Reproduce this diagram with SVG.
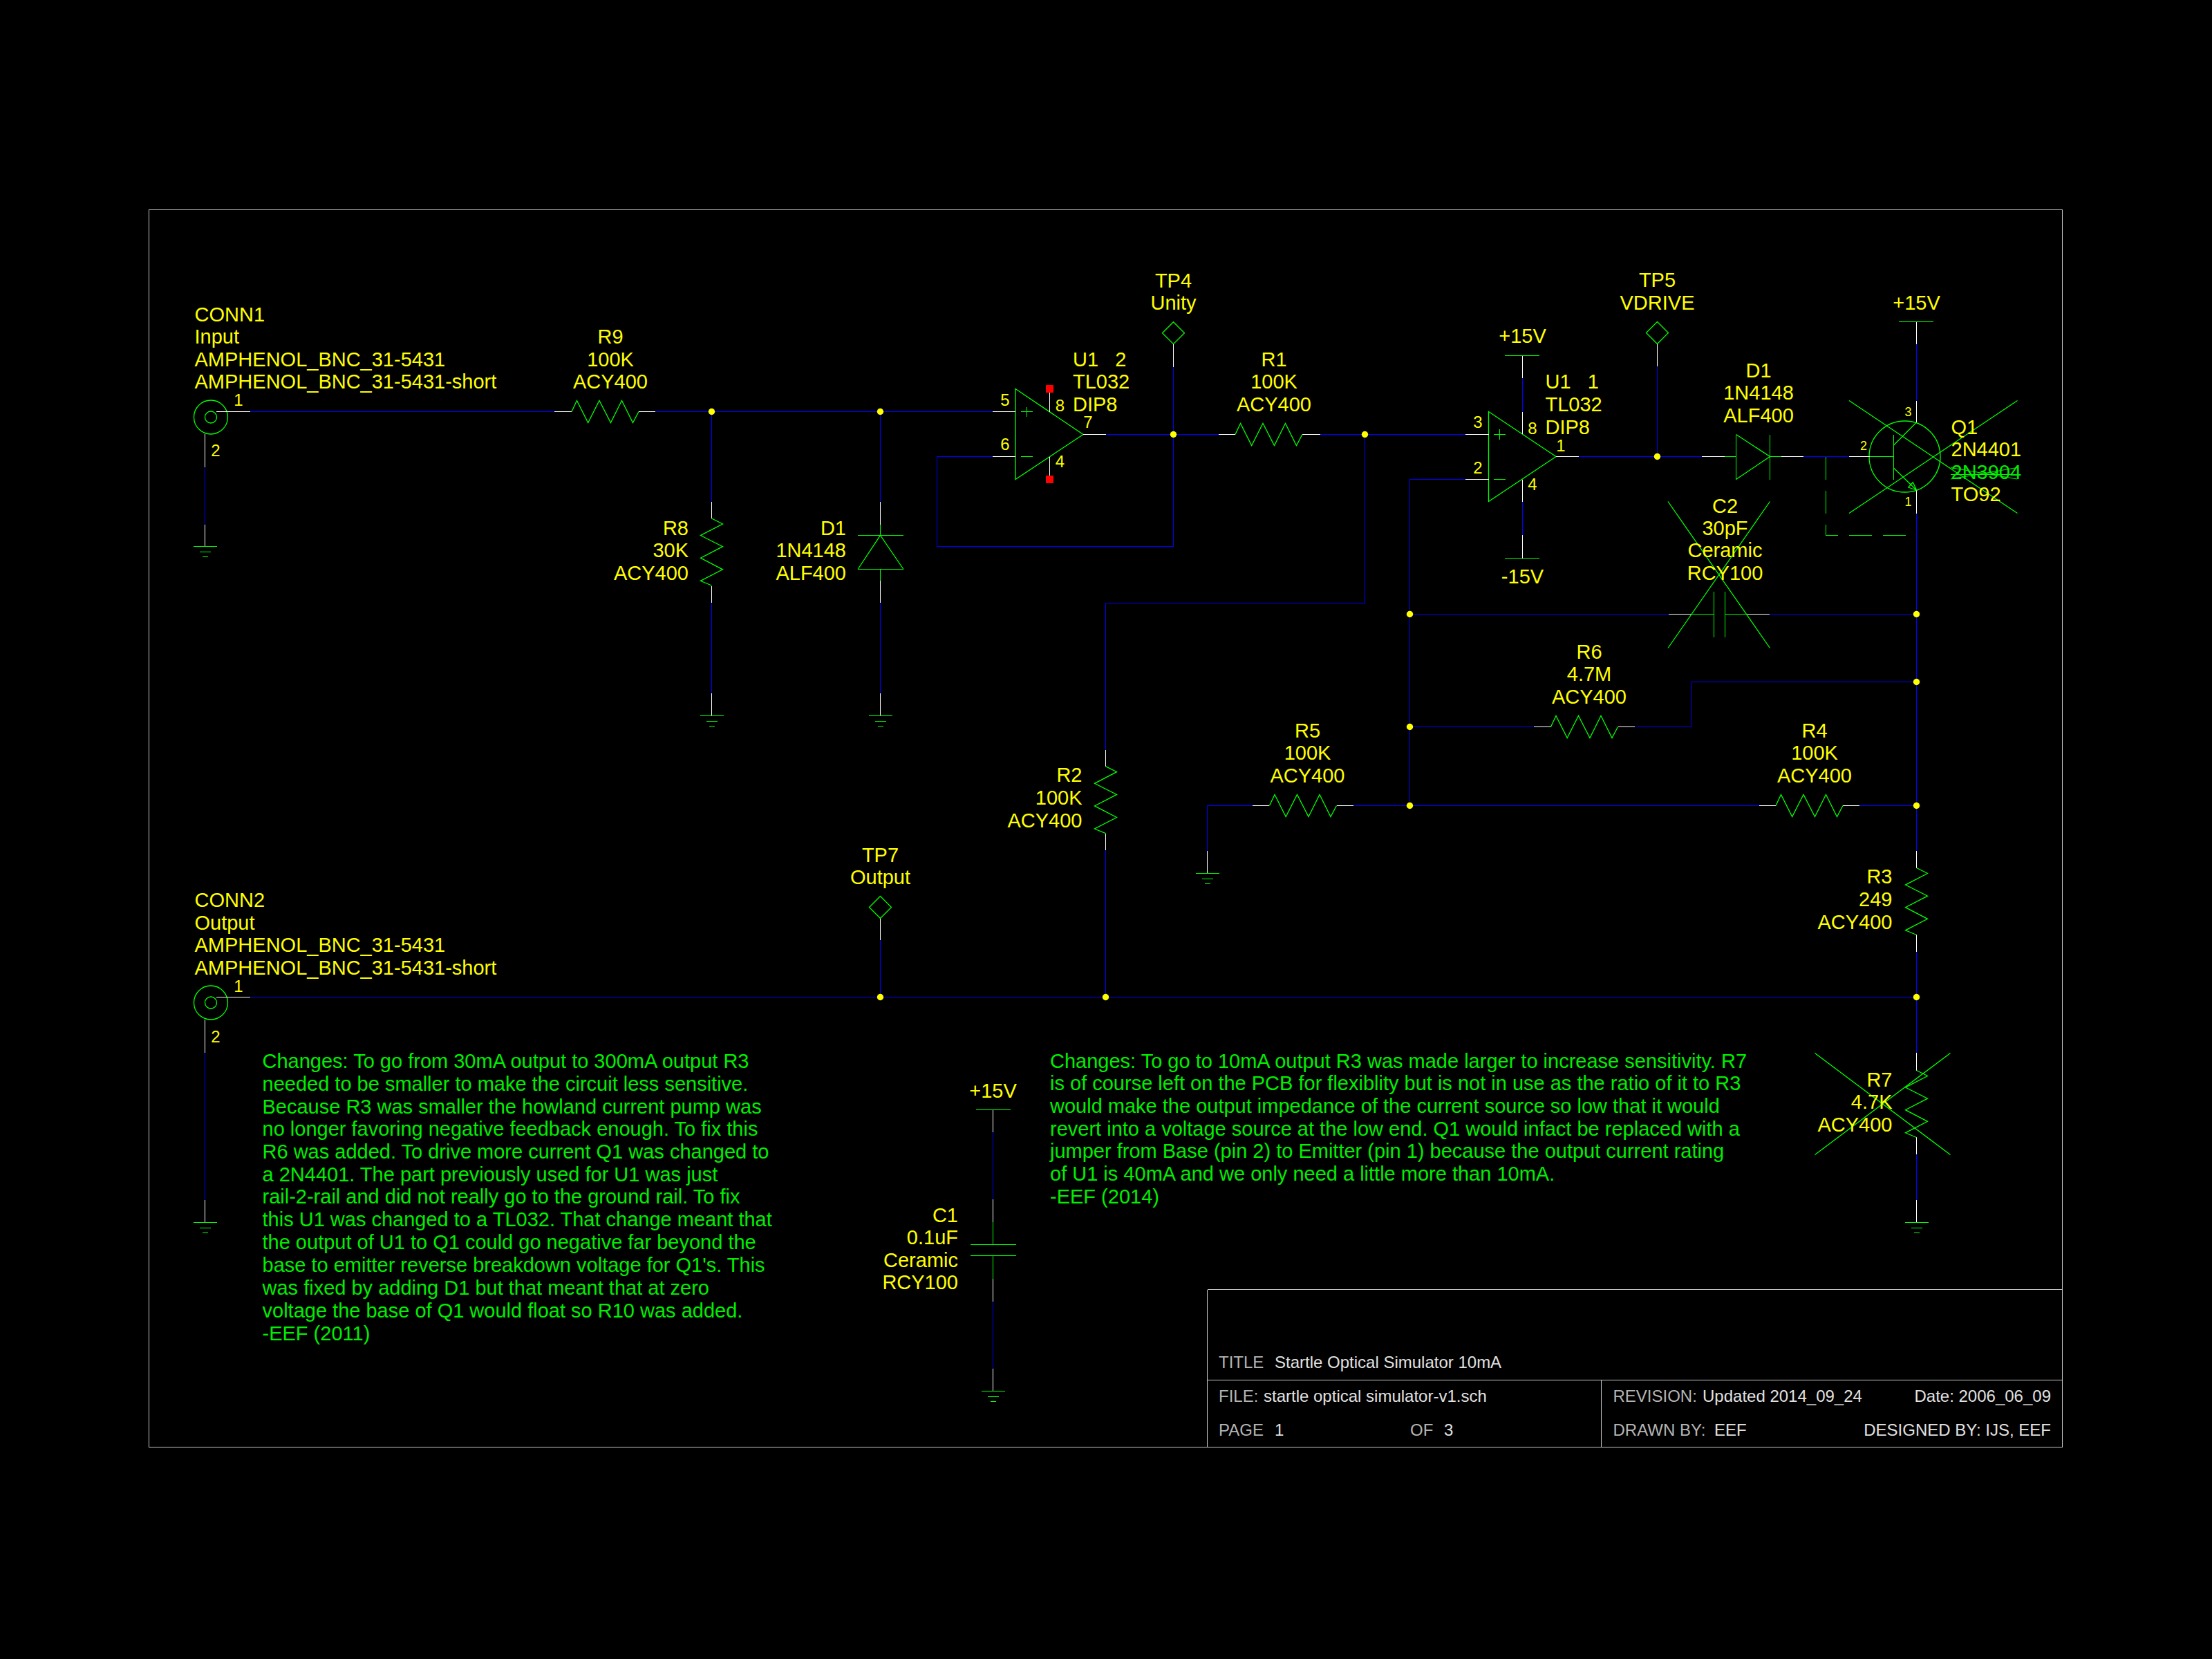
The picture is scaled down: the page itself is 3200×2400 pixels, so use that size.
<svg xmlns="http://www.w3.org/2000/svg" width="3200" height="2400" viewBox="0 0 3200 2400">
<style>
text{font-family:"Liberation Sans",Arial,sans-serif;font-size:29px;fill:#ff0}
.m{text-anchor:middle}.e{text-anchor:end}
.p{font-size:24px}.ps{font-size:18px}
.n{fill:#0e0}
.tb{font-size:24px;fill:#b4b4b4}.tv{font-size:24px;fill:#e0e0e0}
.s{fill:none;stroke:#0f0;stroke-width:1.3}
.c{fill:none;stroke:#0f0;stroke-width:1;shape-rendering:crispEdges}
.d{fill:none;stroke:#0f0;stroke-width:1;stroke-dasharray:33 16;shape-rendering:crispEdges}
.w{fill:none;stroke:#00f;stroke-width:1;shape-rendering:crispEdges}
.q{fill:none;stroke:#fff;stroke-width:1;shape-rendering:crispEdges}
.f{fill:none;stroke:#c8c8c8;stroke-width:1;shape-rendering:crispEdges}
.j{fill:#ff0}
.r{fill:#f00}
</style>
<defs>
<polyline id="rh" class="s" points="0,0 7.5,-16 23.7,16 40,-16 56.5,16 72.5,-16 88.5,16 97,0"/>
<polyline id="rv" class="s" points="0,0 16,8 -16,24.6 16,40.7 -16,57.2 16,73.8 -16,90.3 0,97"/>
<path id="gnd" class="c" d="M-17 0H17M-8 8H8M-4 15H4"/>
<polygon id="tp" class="s" points="0,-16 16,0 0,16 -16,0"/>
<g id="ring"><circle class="s" r="24.5"/><circle class="s" r="8.5"/></g>
<circle id="jn" class="j" r="4.7"/>
</defs>
<rect width="3200" height="2400" fill="#000"/>
<g id="frame">
<path class="f" d="M215.5 303.5H2983.5V2093.5H215.5ZM1746.5 1865.5H2983.5M1746.5 1865.5V2093.5M1746.5 1996.5H2983.5M2316.5 1996.5V2093.5"/>
<text class="tb" x="1763" y="1979">TITLE</text><text class="tv" x="1844" y="1979">Startle Optical Simulator 10mA</text>
<text class="tb" x="1763" y="2028">FILE:</text><text class="tv" x="1828" y="2028">startle optical simulator-v1.sch</text>
<text class="tb" x="1763" y="2077">PAGE</text><text class="tv" x="1844" y="2077">1</text>
<text class="tb" x="2040" y="2077">OF</text><text class="tv" x="2089" y="2077">3</text>
<text class="tb" x="2333.5" y="2028">REVISION:</text><text class="tv" x="2463" y="2028">Updated 2014_09_24</text>
<text class="tv e" x="2967" y="2028">Date: 2006_06_09</text>
<text class="tb" x="2333.5" y="2077">DRAWN BY:</text><text class="tv" x="2480" y="2077">EEF</text>
<text class="tv e" x="2967" y="2077">DESIGNED BY: IJS, EEF</text>
</g>
<g id="connectors">
<path class="w" d="M362 595.5H802M948 595.5H1436M1029.5 595.5V726M1029.5 871.5V1003M1273.5 595.5V726M1273.5 871.5V1003"/>
<path class="w" d="M1436 660.5H1355.5V790.5H1697.5V531M1600 628.5H1763M1910 628.5H2120M1974.5 628.5V872.5H1599.5V1085M1599.5 1230V1442.5"/>
<path class="w" d="M362 1442.5H2772.5M1273.5 1360V1442.5M2772.5 498V580M2772.5 742.5V1230.5M2772.5 1376.5V1523M2772.5 1669.5V1736"/>
<path class="w" d="M2120 693.5H2039.5V1165.5M2039.5 888.5H2413.5M2560 888.5H2772.5M2039.5 1051.5H2218.5M2364.5 1051.5H2446.5V986.5H2772.5"/>
<path class="w" d="M1746.5 1230.5V1165.5H1812M1958 1165.5H2545M2690 1165.5H2772.5M2284 660.5H2462M2397.5 530V660.5M2609 660.5H2675"/>
<path class="w" d="M2202.5 547V595.5M2202.5 726V774M296.5 675.5V758.5M296.5 1523V1736M1436.5 1638V1735M1436.5 1883V1980"/>
<use href="#jn" x="1029.5" y="595.5"/><use href="#jn" x="1273.5" y="595.5"/><use href="#jn" x="1697.5" y="628.5"/><use href="#jn" x="1974.5" y="628.5"/>
<use href="#jn" x="2397.5" y="660.5"/><use href="#jn" x="2039.5" y="888.5"/><use href="#jn" x="2772.5" y="888.5"/><use href="#jn" x="2772.5" y="986.5"/>
<use href="#jn" x="2039.5" y="1051.5"/><use href="#jn" x="2039.5" y="1165.5"/><use href="#jn" x="2772.5" y="1165.5"/>
<use href="#jn" x="1273.5" y="1442.5"/><use href="#jn" x="1599.5" y="1442.5"/><use href="#jn" x="2772.5" y="1442.5"/>
</g>
<g id="CONN1">
<use href="#ring" x="305" y="603.5"/>
<path class="q" d="M313 595.5H362M296.5 628V675.5M296.5 758.5V790"/>
<use href="#gnd" x="296.5" y="790.5"/>
<text x="281.5" y="465">CONN1</text><text x="281.5" y="497">Input</text><text x="281.5" y="530">AMPHENOL_BNC_31-5431</text><text x="281.5" y="562">AMPHENOL_BNC_31-5431-short</text>
<text class="p m" x="345" y="587">1</text><text class="p m" x="312" y="660">2</text>
</g>
<g id="CONN2">
<use href="#ring" x="305" y="1450.5"/>
<path class="q" d="M313 1442.5H362M296.5 1475V1523M296.5 1736V1768"/>
<use href="#gnd" x="296.5" y="1768.5"/>
<text x="281.5" y="1312">CONN2</text><text x="281.5" y="1344.5">Output</text><text x="281.5" y="1377">AMPHENOL_BNC_31-5431</text><text x="281.5" y="1409.5">AMPHENOL_BNC_31-5431-short</text>
<text class="p m" x="345" y="1435">1</text><text class="p m" x="312" y="1508">2</text>
</g>
<g id="R9">
<path class="q" d="M802 595.5H827M924 595.5H948"/><use href="#rh" x="827" y="595.5"/>
<text class="m" x="883" y="497">R9</text><text class="m" x="883" y="530">100K</text><text class="m" x="883" y="562">ACY400</text>
</g>
<g id="R8">
<path class="q" d="M1029.5 726V750M1029.5 847.5V871.5M1029.5 1003V1035"/><use href="#rv" x="1029.5" y="750"/><use href="#gnd" x="1029.5" y="1035.5"/>
<text class="e" x="996" y="774">R8</text><text class="e" x="996" y="806">30K</text><text class="e" x="996" y="838.5">ACY400</text>
</g>
<g id="D1a">
<path class="q" d="M1273.5 726V758.5M1273.5 839.5V871.5M1273.5 1003V1035"/>
<path class="c" d="M1273.5 758.5V774.5M1241 774.5H1307M1241 823.5H1307M1273.5 823.5V839.5"/>
<polyline class="s" points="1241,823.5 1273.5,774.5 1307,823.5"/>
<use href="#gnd" x="1273.5" y="1035.5"/>
<text class="e" x="1224" y="774">D1</text><text class="e" x="1224" y="806">1N4148</text><text class="e" x="1224" y="838.5">ALF400</text>
</g>
<g id="U1b">
<polygon class="s" points="1469,562.5 1567,628.5 1469,693.5"/>
<path class="c" d="M1477 595.5H1494M1485.5 589V603M1477 660.5H1494"/>
<path class="q" d="M1436 595.5H1469M1436 660.5H1469M1567 628.5H1600M1518.5 568V595.5M1518.5 660.5V688"/>
<rect class="r" x="1513" y="557" width="11" height="11"/><rect class="r" x="1513" y="688" width="11" height="11"/>
<text class="p m" x="1454" y="587">5</text><text class="p m" x="1454" y="651">6</text><text class="p m" x="1533.5" y="595">8</text><text class="p m" x="1574" y="619">7</text><text class="p m" x="1533.5" y="676">4</text>
<text x="1552" y="530" xml:space="preserve">U1   2</text><text x="1552" y="562">TL032</text><text x="1552" y="595">DIP8</text>
</g>
<g id="TP4">
<use href="#tp" x="1697.5" y="481.7"/><path class="q" d="M1697.5 498V531"/>
<text class="m" x="1697.5" y="416">TP4</text><text class="m" x="1697.5" y="448">Unity</text>
</g>
<g id="R1">
<path class="q" d="M1763 628.5H1787M1884 628.5H1910"/><use href="#rh" x="1787" y="628.5"/>
<text class="m" x="1843" y="530">R1</text><text class="m" x="1843" y="562">100K</text><text class="m" x="1843" y="595">ACY400</text>
</g>
<g id="U1a">
<polygon class="s" points="2153.5,595.5 2251,660.5 2153.5,725.5"/>
<path class="c" d="M2161 628.5H2177.5M2169.5 621V636M2161 693.5H2177.5"/>
<path class="q" d="M2120 628.5H2153.5M2120 693.5H2153.5M2251 660.5H2284M2202.5 595.5V628M2202.5 693.5V726"/>
<text class="p m" x="2138" y="619">3</text><text class="p m" x="2138" y="685">2</text><text class="p m" x="2217" y="628">8</text><text class="p m" x="2258" y="652.5">1</text><text class="p m" x="2217" y="709">4</text>
<text x="2235.5" y="562" xml:space="preserve">U1   1</text><text x="2235.5" y="594.5">TL032</text><text x="2235.5" y="627.5">DIP8</text>
</g>
<g id="PWR1">
<path class="c" d="M2177 514.5H2227"/><path class="q" d="M2202.5 514.5V547"/>
<text class="m" x="2202.5" y="496">+15V</text>
</g>
<g id="PWR2">
<path class="c" d="M2177 807.5H2227"/><path class="q" d="M2202.5 774V807.5"/>
<text class="m" x="2202.5" y="844">-15V</text>
</g>
<g id="TP5">
<use href="#tp" x="2397.5" y="481.5"/><path class="q" d="M2397.5 497.5V530"/>
<text class="m" x="2397.5" y="415">TP5</text><text class="m" x="2397.5" y="447.5">VDRIVE</text>
</g>
<g id="D1b">
<path class="q" d="M2462 660.5H2495M2577 660.5H2609"/>
<path class="c" d="M2495 660.5H2511.5M2511.5 628.5V693.5M2560.5 628.5V693.5M2560.5 660.5H2577"/>
<polyline class="s" points="2511.5,628.5 2560.5,660.5 2511.5,693.5"/>
<text class="m" x="2544" y="546">D1</text><text class="m" x="2544" y="578">1N4148</text><text class="m" x="2544" y="610.5">ALF400</text>
</g>
<g id="Q1">
<circle class="s" cx="2755.5" cy="660.5" r="51.5"/>
<path class="q" d="M2675 660.5H2704.5M2772.5 580V611M2772.5 709V742.5M2772.5 465.5V498"/>
<path class="c" d="M2704.5 660.5H2739M2739.5 628.5V693.5M2747 465.5H2797"/>
<path class="s" d="M2772.5 611L2739.5 644M2739.5 677L2772.5 709M2772.5 709L2760.7 705L2767.3 697.7Z"/>
<path class="d" d="M2641.5 660.5V774.5H2772.5"/>
<path class="s" d="M2675 579.5L2918.5 742.5M2675 742.5L2918.5 579.5"/>
<text class="ps m" x="2760.5" y="601.5">3</text><text class="ps m" x="2696" y="650.5">2</text><text class="ps m" x="2760.5" y="732">1</text>
<text class="m" x="2772.5" y="447.5">+15V</text>
<path class="s" style="stroke-width:1" d="M2822 676.5L2918 693M2822 693L2918 676.5M2822 686.5H2922"/>
<text x="2822.5" y="627.5">Q1</text><text x="2822.5" y="660">2N4401</text><text class="n" x="2822.5" y="692.5">2N3904</text><text x="2822.5" y="725">TO92</text>
</g>
<g id="C2">
<path class="q" d="M2413.5 888.5H2446.5M2527.5 888.5H2560"/>
<path class="c" d="M2446.5 888.5H2479.5M2479.5 856V922M2495.5 856V922M2495.5 888.5H2527.5"/>
<path class="s" d="M2413 725.5L2560.5 937.5M2413 937.5L2560.5 725.5"/>
<text class="m" x="2495.5" y="741.5">C2</text><text class="m" x="2495.5" y="774">30pF</text><text class="m" x="2495.5" y="806">Ceramic</text><text class="m" x="2495.5" y="838.5">RCY100</text>
</g>
<g id="R6">
<path class="q" d="M2218.5 1051.5H2243.5M2340.5 1051.5H2364.5"/><use href="#rh" x="2243.5" y="1051.5"/>
<text class="m" x="2299" y="953">R6</text><text class="m" x="2299" y="985">4.7M</text><text class="m" x="2299" y="1018">ACY400</text>
</g>
<g id="R5">
<path class="q" d="M1812 1165.5H1836M1933.5 1165.5H1958M1746.5 1230.5V1263"/><use href="#rh" x="1836.5" y="1165.5"/><use href="#gnd" x="1746.5" y="1263.5"/>
<text class="m" x="1891.5" y="1067">R5</text><text class="m" x="1891.5" y="1099">100K</text><text class="m" x="1891.5" y="1132">ACY400</text>
</g>
<g id="R4">
<path class="q" d="M2545 1165.5H2568.5M2666 1165.5H2690"/><use href="#rh" x="2569" y="1165.5"/>
<text class="m" x="2625" y="1067">R4</text><text class="m" x="2625" y="1099">100K</text><text class="m" x="2625" y="1132">ACY400</text>
</g>
<g id="R2">
<path class="q" d="M1599.5 1085V1108.5M1599.5 1205.5V1230"/><use href="#rv" x="1599.5" y="1108.7"/>
<text class="e" x="1565.5" y="1131">R2</text><text class="e" x="1565.5" y="1164">100K</text><text class="e" x="1565.5" y="1197">ACY400</text>
</g>
<g id="R3">
<path class="q" d="M2772.5 1230.5V1255.5M2772.5 1352V1376.5"/><use href="#rv" x="2772.5" y="1255.5"/>
<text class="e" x="2737.5" y="1278">R3</text><text class="e" x="2737.5" y="1311">249</text><text class="e" x="2737.5" y="1344">ACY400</text>
</g>
<g id="R7">
<path class="q" d="M2772.5 1523V1549M2772.5 1645V1669.5M2772.5 1736V1768"/><use href="#rv" x="2772.5" y="1548.5"/><use href="#gnd" x="2772.5" y="1768.5"/>
<path class="s" d="M2625.5 1523.5L2821.5 1670.5M2625.5 1670.5L2821.5 1523.5"/>
<text class="e" x="2737.5" y="1571.5">R7</text><text class="e" x="2737.5" y="1604">4.7K</text><text class="e" x="2737.5" y="1636.5">ACY400</text>
</g>
<g id="TP7">
<use href="#tp" x="1273.5" y="1312.5"/><path class="q" d="M1273.5 1329V1360"/>
<text class="m" x="1273.5" y="1246.5">TP7</text><text class="m" x="1273.5" y="1279">Output</text>
</g>
<g id="C1">
<path class="c" d="M1412 1605.5H1462M1436.5 1768V1800.5M1404 1800.5H1470M1404 1816.5H1470M1436.5 1816.5V1850"/>
<path class="q" d="M1436.5 1605.5V1638M1436.5 1735V1768M1436.5 1850V1883M1436.5 1980V2012"/>
<use href="#gnd" x="1436.5" y="2012.5"/>
<text class="m" x="1436.5" y="1587.5">+15V</text>
<text class="e" x="1386" y="1767.5">C1</text><text class="e" x="1386" y="1799.5">0.1uF</text><text class="e" x="1386" y="1832.5">Ceramic</text><text class="e" x="1386" y="1865">RCY100</text>
</g>
<g id="note1">
<text class="n" x="379.5" y="1545">Changes: To go from 30mA output to 300mA output R3</text>
<text class="n" x="379.5" y="1577.5">needed to be smaller to make the circuit less sensitive.</text>
<text class="n" x="379.5" y="1610.5">Because R3 was smaller the howland current pump was</text>
<text class="n" x="379.5" y="1643">no longer favoring negative feedback enough. To fix this</text>
<text class="n" x="379.5" y="1676">R6 was added. To drive more current Q1 was changed to</text>
<text class="n" x="379.5" y="1708.5">a 2N4401. The part previously used for U1 was just</text>
<text class="n" x="379.5" y="1741">rail-2-rail and did not really go to the ground rail. To fix</text>
<text class="n" x="379.5" y="1774">this U1 was changed to a TL032. That change meant that</text>
<text class="n" x="379.5" y="1806.5">the output of U1 to Q1 could go negative far beyond the</text>
<text class="n" x="379.5" y="1839.5">base to emitter reverse breakdown voltage for Q1's. This</text>
<text class="n" x="379.5" y="1873">was fixed by adding D1 but that meant that at zero</text>
<text class="n" x="379.5" y="1905.5">voltage the base of Q1 would float so R10 was added.</text>
<text class="n" x="379.5" y="1938.5">-EEF (2011)</text>
</g>
<g id="note2">
<text class="n" x="1519" y="1544.5">Changes: To go to 10mA output R3 was made larger to increase sensitivity. R7</text>
<text class="n" x="1519" y="1577">is of course left on the PCB for flexiblity but is not in use as the ratio of it to R3</text>
<text class="n" x="1519" y="1610">would make the output impedance of the current source so low that it would</text>
<text class="n" x="1519" y="1642.5">revert into a voltage source at the low end. Q1 would infact be replaced with a</text>
<text class="n" x="1519" y="1675">jumper from Base (pin 2) to Emitter (pin 1) because the output current rating</text>
<text class="n" x="1519" y="1708">of U1 is 40mA and we only need a little more than 10mA.</text>
<text class="n" x="1519" y="1740.5">-EEF (2014)</text>
</g>
</svg>
